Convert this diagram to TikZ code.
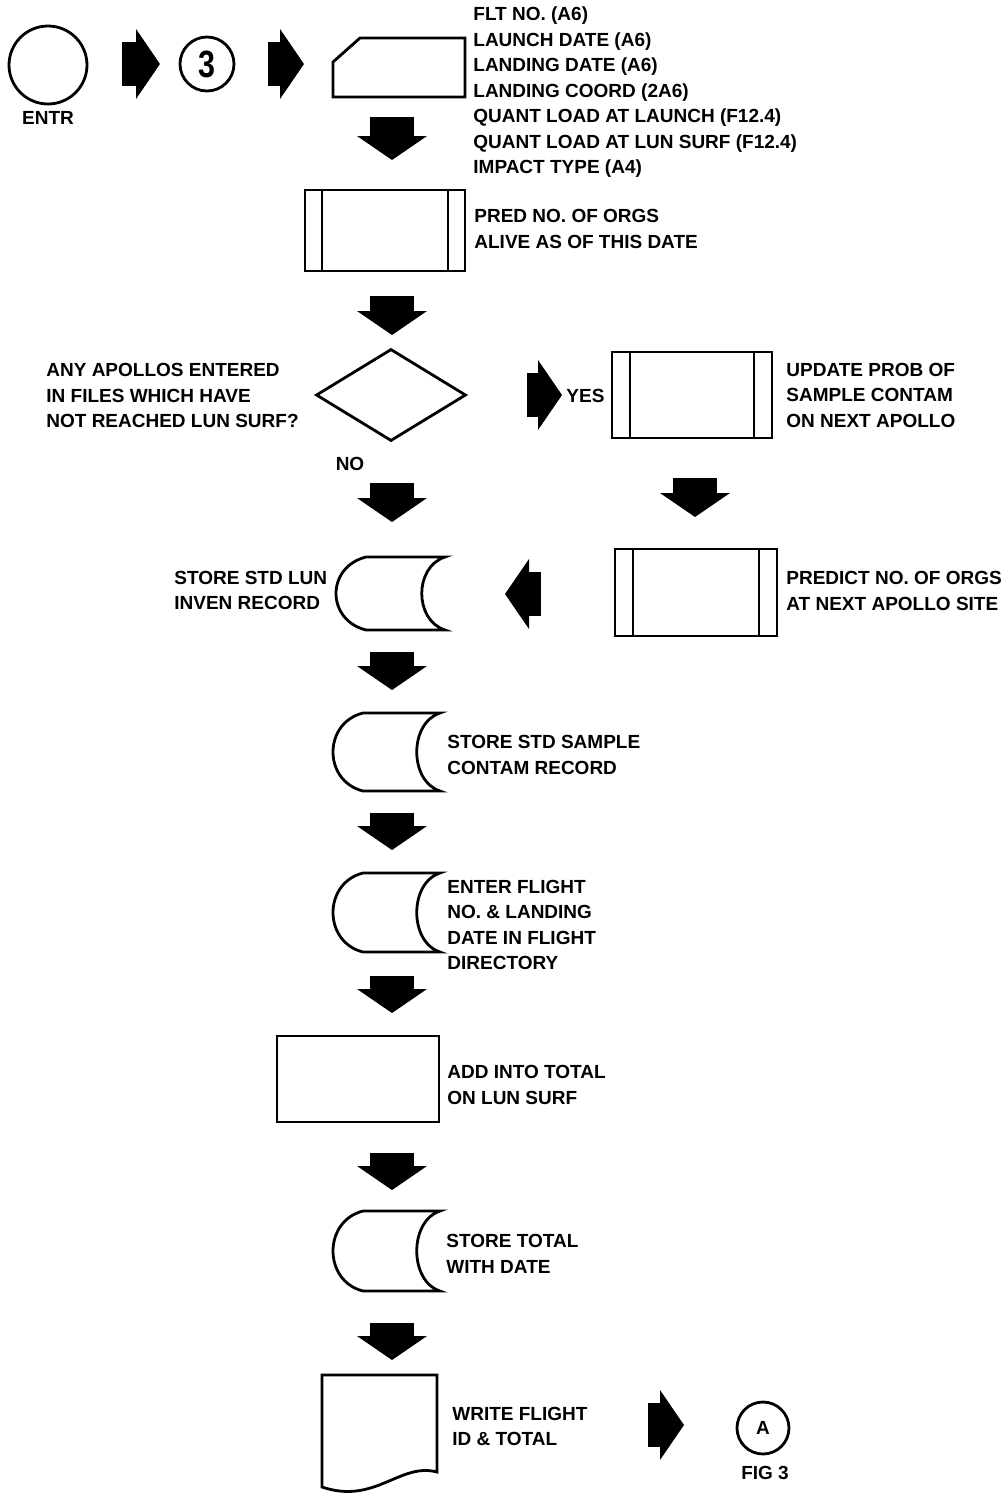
\documentclass[tikz,border=0pt]{standalone}
\usepackage{fontspec}
\usepackage{graphicx}
\setmainfont{Liberation Sans}
\usetikzlibrary{shapes.geometric,arrows.meta,calc}
\newcommand\storedout[1]{%
  \draw[outl] ($(#1.north west)+(30,0)$) -- (#1.north east)
    .. controls ($(#1.north east)+(-31,10)$) and ($(#1.south east)+(-31,-10)$) .. (#1.south east)
    -- ($(#1.south west)+(30,0)$)
    .. controls ($(#1.south west)+(-10,-10)$) and ($(#1.north west)+(-10,10)$) .. cycle;}
\newcommand\predout[2]{%
  \draw[outl] ($(#1.north west)+(#2,0)$) -- ($(#1.south west)+(#2,0)$);
  \draw[outl] ($(#1.north east)+(-#2,0)$) -- ($(#1.south east)+(-#2,0)$);}
\begin{document}
\begin{tikzpicture}[x=0.5pt,y=-0.5pt,
  outl/.style={line width=1.4pt, line join=miter},
  lbl/.style={font=\fontsize{9.5}{12.75}\selectfont\bfseries, inner sep=0pt, align=left, anchor=west},
  fat/.style={line width=22pt, -{Triangle[length=12pt,width=35pt,line width=0pt]}},
  boxn/.style={inner sep=0pt, outer sep=0pt},
  predbox/.style={boxn, draw, outl, rectangle},
]
\useasboundingbox[fill=white] (0,0) rectangle (1003,1495);

% --- top row
\node[circle, draw, outl, minimum size=39pt, inner sep=0pt] (entr) at (48,65) {};
\node[lbl, anchor=center] (entrl) at (48,118) {ENTR};
\node[circle, draw, outl, minimum size=27pt, inner sep=0pt] (c3) at (207,64) {\scalebox{0.8}[1]{\fontsize{19}{19}\selectfont\bfseries 3}};
\node[boxn, minimum width=66pt, minimum height=29.5pt] (inp) at (399,67.5) {};
\draw[outl] (inp.south west) -- ($(inp.north west)+(0,24)$) -- ($(inp.north west)+(27,0)$) -- (inp.north east) -- (inp.south east) -- cycle;
\node[lbl] (inpl) at (473,92.5) {FLT NO. (A6)\\LAUNCH DATE (A6)\\LANDING DATE (A6)\\LANDING COORD (2A6)\\QUANT LOAD AT LAUNCH (F12.4)\\QUANT LOAD AT LUN SURF (F12.4)\\IMPACT TYPE (A4)};

\coordinate (r1s) at (122,64); \coordinate (r1e) at (160,64);
\coordinate (r2s) at (268,64); \coordinate (r2e) at (304,64);
\draw[fat] (r1s) -- (r1e);
\draw[fat] (r2s) -- (r2e);

% --- pred 1
\coordinate (d1s) at (392,117); \coordinate (d1e) at (392,160);
\draw[fat] (d1s) -- (d1e);
\node[predbox, minimum width=80pt, minimum height=40.5pt] (pred1) at (385,230.5) {};
\predout{pred1}{17}
\node[lbl] (pred1l) at (474,229) {PRED NO. OF ORGS\\ALIVE AS OF THIS DATE};

% --- decision
\coordinate (d2s) at (392,296); \coordinate (d2e) at (392,335);
\draw[fat] (d2s) -- (d2e);
\node[diamond, draw, outl, minimum width=75pt, minimum height=46pt, inner sep=0pt] (dec) at (391,395) {};
\node[lbl] (decl) at (46,395.5) {ANY APOLLOS ENTERED\\IN FILES WHICH HAVE\\NOT REACHED LUN SURF?};
\node[lbl, anchor=center] (nol) at (350,464) {NO};
\coordinate (ys) at (527,395); \coordinate (ye) at (562,395);
\draw[fat] (ys) -- (ye);
\node[lbl] (yesl) at (566,396) {YES};

% --- right column
\node[predbox, minimum width=80pt, minimum height=43pt] (pred2) at (692,395) {};
\predout{pred2}{18}
\node[lbl] (pred2l) at (786,395) {UPDATE PROB OF\\SAMPLE CONTAM\\ON NEXT APOLLO};
\coordinate (d3s) at (695,478); \coordinate (d3e) at (695,517);
\draw[fat] (d3s) -- (d3e);
\node[predbox, minimum width=81pt, minimum height=43.5pt] (pred3) at (696,592.5) {};
\predout{pred3}{18}
\node[lbl] (pred3l) at (786,591) {PREDICT NO. OF ORGS\\AT NEXT APOLLO SITE};
\coordinate (ls) at (541,594); \coordinate (le) at (505,594);
\draw[fat] (ls) -- (le);

% --- main column
\coordinate (d4s) at (392,483); \coordinate (d4e) at (392,522);
\draw[fat] (d4s) -- (d4e);
\node[boxn, minimum width=54.5pt, minimum height=36.5pt] (st1) at (390.5,593.5) {};
\storedout{st1}
\node[lbl] (st1l) at (174,590.5) {STORE STD LUN\\INVEN RECORD};

\coordinate (d5s) at (392,652); \coordinate (d5e) at (392,690);
\draw[fat] (d5s) -- (d5e);
\node[boxn, minimum width=53.5pt, minimum height=39pt] (st2) at (386.5,752) {};
\storedout{st2}
\node[lbl] (st2l) at (447,755) {STORE STD SAMPLE\\CONTAM RECORD};

\coordinate (d6s) at (392,813); \coordinate (d6e) at (392,850);
\draw[fat] (d6s) -- (d6e);
\node[boxn, minimum width=53.5pt, minimum height=39.5pt] (st3) at (386.5,912.5) {};
\storedout{st3}
\node[lbl] (st3l) at (447,925) {ENTER FLIGHT\\NO. \& LANDING\\DATE IN FLIGHT\\DIRECTORY};

\coordinate (d7s) at (392,976); \coordinate (d7e) at (392,1013);
\draw[fat] (d7s) -- (d7e);
\node[predbox, minimum width=81pt, minimum height=43pt] (add) at (358,1079) {};
\node[lbl] (addl) at (447,1085) {ADD INTO TOTAL\\ON LUN SURF};

\coordinate (d8s) at (392,1153); \coordinate (d8e) at (392,1190);
\draw[fat] (d8s) -- (d8e);
\node[boxn, minimum width=53.5pt, minimum height=40pt] (st4) at (386.5,1251) {};
\storedout{st4}
\node[lbl] (st4l) at (446,1254) {STORE TOTAL\\WITH DATE};

\coordinate (d9s) at (392,1323); \coordinate (d9e) at (392,1360);
\draw[fat] (d9s) -- (d9e);
\node[boxn, minimum width=57.5pt, minimum height=55pt] (doc) at (379.5,1430) {};
\draw[outl] (doc.north west) -- (doc.north east) -- ($(doc.north east)+(0,97)$)
  .. controls ($(doc.north east)+(-37,87)$) and ($(doc.north west)+(53,130)$) .. ($(doc.north west)+(0,112)$) -- cycle;
\node[lbl] (docl) at (452,1426.5) {WRITE FLIGHT\\ID \& TOTAL};

\coordinate (r3s) at (648,1425); \coordinate (r3e) at (684,1425);
\draw[fat] (r3s) -- (r3e);
\node[circle, draw, outl, minimum size=26pt, inner sep=0pt, font=\fontsize{9.5}{12}\selectfont\bfseries] (ca) at (763,1428) {A};
\node[lbl, anchor=center] (figl) at (765,1473) {FIG 3};
\end{tikzpicture}
\end{document}
